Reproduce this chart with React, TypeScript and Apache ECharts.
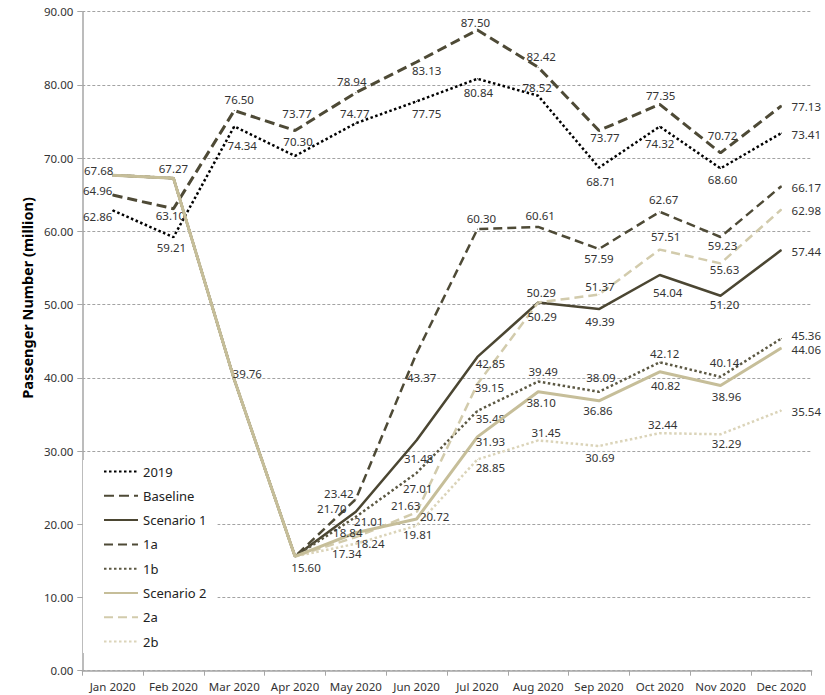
import React, { useEffect, useRef } from "react";
import * as echarts from "echarts";

const MONTHS = ["Jan 2020", "Feb 2020", "Mar 2020", "Apr 2020", "May 2020", "Jun 2020", "Jul 2020", "Aug 2020", "Sep 2020", "Oct 2020", "Nov 2020", "Dec 2020"];
const Y_TICKS_MAX = 90;

const Y2019 = [62.86, 59.21, 74.34, 70.3, 74.77, 77.75, 80.84, 78.52, 68.71, 74.32, 68.6, 73.41];
const BASELINE = [64.96, 63.1, 76.5, 73.77, 78.94, 83.13, 87.5, 82.42, 73.77, 77.35, 70.72, 77.13];
const SCEN1 = [67.68, 67.27, 39.76, 15.6, 21.7, 31.48, 42.85, 50.29, 49.39, 54.04, 51.2, 57.44];
const S1A = [67.68, 67.27, 39.76, 15.6, 23.42, 43.37, 60.3, 60.61, 57.59, 62.67, 59.23, 66.17];
const S1B = [67.68, 67.27, 39.76, 15.6, 21.01, 27.01, 35.48, 39.49, 38.09, 42.12, 40.14, 45.36];
const SCEN2 = [67.68, 67.27, 39.76, 15.6, 18.84, 20.72, 31.93, 38.1, 36.86, 40.82, 38.96, 44.06];
const S2A = [67.68, 67.27, 39.76, 15.6, 18.24, 21.63, 39.15, 50.29, 51.37, 57.51, 55.63, 62.98];
const S2B = [67.68, 67.27, 39.76, 15.6, 17.34, 19.81, 28.85, 31.45, 30.69, 32.44, 32.29, 35.54];

// label offsets (px, relative to point) — styling only; null = no label
type Off = number[] | null;
const L2019: Off[] = [[-15, 6], [-2, 10], [8, 19], [3, -14], [-1, -10], [10, 12], [1, 14], [-1, -8], [2, 14], [0, 17], [2, 11], [25, 1]];
const LBASE: Off[] = [[-15, -5], [-3, 7], [5, -11], [2, -17], [-4, -11], [10, 8], [-2, -8], [3, -11], [6, 7], [1, -9], [2, -17], [25, 1]];
const LS1: Off[] = [null, null, null, null, [-24, -3], [2, 18], [13, 7], [4, 14], [1, 12], [8, 17], [4, 9], [25, 1]];
const LS1A: Off[] = [null, null, null, null, [-17, -6], [5, 24], [4, -11], [2, -11], [0, 9], [4, -12], [2, 8], [25, 1]];
const LS1B: Off[] = [null, null, null, null, [13, 5], [1, 16], [13, 8], [5, -10], [2, -14], [5, -9], [4, -14], [25, -3]];
const LS2: Off[] = [[-14, -5], [0, -10], [13, -6], [11, 11], [-8, 0], [18, -2], [13, 5], [3, 11], [-1, 10], [6, 14], [6, 11], [25, 1]];
const LS2A: Off[] = [null, null, null, null, [14, 6], [-11, -7], [12, 3], [3, -10], [1, -8], [6, -13], [4, 6], [25, 1]];
const LS2B: Off[] = [null, null, null, null, [-9, 10], [1, 9], [13, 8], [8, -8], [1, 12], [3, -9], [6, 9], [25, 1]];

const DARK = "#4b4632";
const TAN = "#c6be99";
const FONT = "'Noto Sans', sans-serif";

const SERIES_DEF = [
  { name: "2019", data: Y2019, offs: L2019, color: "#000000", width: 2.5, type: [2.5, 2.5], z: 2 },
  { name: "Baseline", data: BASELINE, offs: LBASE, color: "#4e4a36", width: 3, type: [10, 5], z: 2 },
  { name: "Scenario 1", data: SCEN1, offs: LS1, color: DARK, width: 2.5, type: "solid", z: 2 },
  { name: "1a", data: S1A, offs: LS1A, color: "#4e4a36", width: 2.5, type: [9, 5], z: 2 },
  { name: "1b", data: S1B, offs: LS1B, color: "#5c5843", width: 2.5, type: [2.5, 2.5], z: 2 },
  { name: "Scenario 2", data: SCEN2, offs: LS2, color: TAN, width: 3, type: "solid", z: 3 },
  { name: "2a", data: S2A, offs: LS2A, color: "#d2cbac", width: 2.5, type: [9, 5], z: 2 },
  { name: "2b", data: S2B, offs: LS2B, color: "#dbd4b9", width: 2.5, type: [2.5, 2.5], z: 2 },
];

export default function App() {
  const ref = useRef<HTMLDivElement>(null);
  useEffect(() => {
    if (!ref.current) return;
    const chart = echarts.init(ref.current, null, { renderer: "svg" });
    const series = SERIES_DEF.map((s) => ({
      name: s.name,
      type: "line",
      z: s.z,
      symbol: "circle",
      symbolSize: 1,
      itemStyle: { color: s.color },
      lineStyle: { color: s.color, width: s.width, type: s.type },
      label: {
        show: true,
        position: "inside",
        color: "#333333",
        fontSize: 11.5,
        lineHeight: 12,
        fontFamily: FONT,
        formatter: (p: any) => Number(p.value).toFixed(2),
      },
      data: s.data.map((v, i) => {
        const o = s.offs[i];
        return o ? { value: v, label: { offset: o } } : { value: v, label: { show: false } };
      }),
    }));
    chart.setOption({
      animation: false,
      backgroundColor: "#ffffff",
      grid: { left: 82.3, right: 13.3, top: 11.7, bottom: 24.3, containLabel: false },
      legend: {
        orient: "vertical",
        left: 83,
        top: 460,
        padding: [5, 11, 5, 20],
        itemWidth: 34,
        itemHeight: 14,
        itemGap: 11.3,
        backgroundColor: "#ffffff",
        itemStyle: { opacity: 0 },
        textStyle: { fontSize: 13, fontFamily: FONT, color: "#222222" },
        data: SERIES_DEF.map((s) => s.name),
      },
      xAxis: {
        type: "category",
        data: MONTHS,
        boundaryGap: true,
        axisLine: { lineStyle: { color: "#a6a6a6", width: 1.5 } },
        axisTick: { show: true, length: 5, lineStyle: { color: "#a6a6a6" } },
        axisLabel: { interval: 0, margin: 10, color: "#333333", fontSize: 11.5, fontFamily: FONT },
        splitLine: { show: false },
      },
      yAxis: {
        type: "value",
        min: 0,
        max: Y_TICKS_MAX,
        interval: 10,
        axisLine: { show: true, lineStyle: { color: "#a6a6a6", width: 1.5 } },
        axisTick: { show: true, length: 5, lineStyle: { color: "#a6a6a6" } },
        axisLabel: { margin: 9, color: "#333333", fontSize: 11.5, fontFamily: FONT, formatter: (v: number) => v.toFixed(2) },
        splitLine: { show: true, lineStyle: { color: "#8c8c8c", width: 0.8, type: [3, 2] } },
      },
      graphic: [
        {
          type: "text",
          x: 27,
          y: 298,
          rotation: Math.PI / 2,
          style: {
            text: "Passenger Number (million)",
            fontSize: 14.5,
            fontWeight: "bold",
            fontFamily: FONT,
            fill: "#000000",
            align: "center",
            verticalAlign: "middle",
          },
        },
      ],
      series,
    });
    return () => chart.dispose();
  }, []);
  return <div ref={ref} style={{ position: "fixed", left: 0, top: 0, width: 825, height: 695 }} />;
}
